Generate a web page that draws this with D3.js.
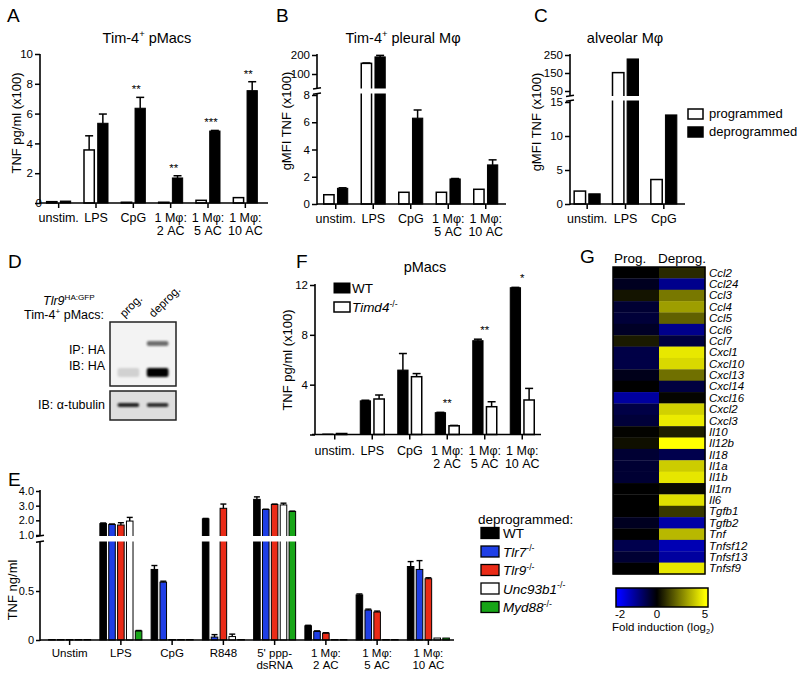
<!DOCTYPE html>
<html><head><meta charset="utf-8">
<script src="https://cdn.jsdelivr.net/npm/d3@7"></script>
<style>body{margin:0;background:#fff}</style>
</head><body><svg id="c" width="800" height="678"></svg>
<script>
// ---------------- DATA ----------------
const groupsA = ["unstim.","LPS","CpG","1 Mφ:\n2 AC","1 Mφ:\n5 AC","1 Mφ:\n10 AC"];
const progA = [0.09,3.56,0.05,0.05,0.18,0.36];
const progAErr = [0,0.95,0,0,0,0];
const deprogA = [0.13,5.35,6.36,1.68,4.83,7.54];
const deprogAErr = [0,0.62,0.73,0.15,0.04,0.6];
const starsA = ["","","**","**","***","**"];
const ticksA = [0,2,4,6,8,10];

const groupsB = ["unstim.","LPS","CpG","1 Mφ:\n5 AC","1 Mφ:\n10 AC"];
const progB = [0.68,156,0.86,0.86,1.08];
const progBErr = [0,2,0,0,0];
const deprogB = [1.15,190,6.3,1.84,2.87];
const deprogBErr = [0.04,8,0.6,0.03,0.37];
const ticksBLow = [0,2,4,6,8];
const ticksBHigh = [100,200];

const groupsC = ["unstim.","LPS","CpG"];
const progC = [1.9,152,3.6];
const deprogC = [1.5,228,13.1];
const ticksCLow = [0,5,10,15];
const ticksCHigh = [50,150,250];
const legendC = ["programmed","deprogrammed"];

const lanesD = ["prog.","deprog."];
const haUpperD = [0,0.55];
const haLowerD = [0.14,1.0];
const tubulinD = [0.85,0.8];

const groupsE = ["Unstim","LPS","CpG","R848","5' ppp-\ndsRNA","1 Mφ:\n2 AC","1 Mφ:\n5 AC","1 Mφ:\n10 AC"];
const seriesE = ["WT","Tlr7","Tlr9","Unc93b1","Myd88"];
const colorsE = ["#000000","#1f3fe6","#ea2b17","#ffffff","#17a517"];
const wtE     = [0.004,1.78,0.72,2.1,3.43,0.145,0.46,0.75];
const wtEErr  = [0,0.04,0.04,0.03,0.17,0.005,0.01,0.05];
const tlr7E   = [0.004,1.72,0.59,0.03,2.74,0.088,0.305,0.72];
const tlr7EErr= [0,0.03,0.01,0.025,0.02,0.005,0.01,0.09];
const tlr9E   = [0.004,1.68,0.002,2.82,3.08,0.07,0.285,0.625];
const tlr9EErr= [0,0.16,0,0.29,0.03,0.004,0.01,0.01];
const unc93b1E= [0.004,1.95,0.002,0.035,3.05,0.003,0.005,0.02];
const unc93b1EErr=[0,0.25,0,0.025,0.12,0,0,0];
const myd88E  = [0.003,0.092,0.002,0.002,2.6,0.003,0.005,0.02];
const myd88EErr=[0,0.005,0,0,0.03,0,0,0];
const ticksELow = [0,0.5];
const ticksEHigh = [1,2,3,4];

const groupsF = ["unstim.","LPS","CpG","1 Mφ:\n2 AC","1 Mφ:\n5 AC","1 Mφ:\n10 AC"];
const wtF = [0,2.7,5.17,1.75,7.53,11.78];
const wtFErr = [0,0.05,1.33,0.03,0.12,0.03];
const timd4F = [0.08,2.85,4.64,0.7,2.23,2.77];
const timd4FErr = [0,0.32,0.25,0.03,0.4,0.93];
const starsF = ["","","","**","**","*"];
const ticksF = [0,4,8,12];

const genesG = ["Ccl2","Ccl24","Ccl3","Ccl4","Ccl5","Ccl6","Ccl7","Cxcl1","Cxcl10","Cxcl13","Cxcl14","Cxcl16","Cxcl2","Cxcl3","Il10","Il12b","Il18","Il1a","Il1b","Il1rn","Il6","Tgfb1","Tgfb2","Tnf","Tnfsf12","Tnfsf13","Tnfsf9"];
const progG = [0,-0.25,0.4,-0.4,-0.45,-0.3,0.5,-0.55,-0.55,-0.2,0,-1.25,-0.55,-0.45,0.05,0.3,-0.4,-0.4,-0.4,0,0,0,-0.25,0,-0.6,-0.4,0];
const deprogG = [0.8,-1.1,2.35,3.1,1.9,-1.1,-0.5,4.55,4.25,2.2,-0.5,0.1,4.1,4.6,0.6,5,-0.6,4.0,4.5,0.2,4.4,1.1,-1.3,3.6,-1.4,-1.25,4.5];
const columnsG = ["Prog.","Deprog."];
const colorTicksG = [-2,0,5];

// ---------------- HELPERS ----------------
const FONT = '"Liberation Sans", Arial, Helvetica, sans-serif';
const svg = d3.select("#c").attr("font-family", FONT);

function rich(t, parts, fs) {
  let shift = 0;
  parts.forEach(p => {
    const o = typeof p === "string" ? {t:p} : p;
    const target = o.sup ? -fs*0.38 : o.sub ? fs*0.25 : 0;
    const sp = t.append("tspan").text(o.t);
    if (target - shift !== 0) sp.attr("dy", target - shift);
    shift = target;
    if (o.sup || o.sub) sp.attr("font-size", fs*0.65);
    if (o.i) sp.attr("font-style","italic");
  });
  return t;
}
function text(g, x, y, s, o={}) {
  const fs = o.fs || 12;
  const t = g.append("text").attr("x",x).attr("y",y).attr("font-size",fs)
    .attr("text-anchor",o.anchor||"start").attr("fill","#000");
  if (o.italic) t.attr("font-style","italic");
  if (o.rot) t.attr("transform",`rotate(${o.rot},${x},${y})`);
  if (typeof s === "string") t.text(s); else rich(t, s, fs);
  return t;
}
function line(g,x1,y1,x2,y2,w=1.6){
  return g.append("line").attr("x1",x1).attr("y1",y1).attr("x2",x2).attr("y2",y2)
    .attr("stroke","#000").attr("stroke-width",w);
}
function yAxis(g, x, scale, ticks, fmt, y0, y1, fs=11.5, ts=5) {
  const a = g.append("g").attr("transform",`translate(${x},0)`)
    .call(d3.axisLeft(scale).tickValues(ticks).tickFormat(fmt).tickSize(ts).tickPadding(2));
  a.select(".domain").remove();
  a.attr("font-family",FONT).attr("font-size",fs);
  a.selectAll(".tick line").attr("stroke","#000").attr("stroke-width",1.5);
  a.selectAll(".tick text").attr("fill","#000");
  line(g,x,y0,x,y1);
  return a;
}
function xAxis(g, xs, y, x0, x1, fs, dy1, lh) {
  const a = g.append("g").attr("transform",`translate(0,${y})`)
    .call(d3.axisBottom(xs).tickSize(5).tickSizeOuter(0));
  a.select(".domain").remove();
  a.attr("font-family",FONT).attr("font-size",fs);
  a.selectAll(".tick line").attr("stroke","#000").attr("stroke-width",1.5);
  a.selectAll(".tick text").each(function(d){
    const t = d3.select(this); t.text(null).attr("dy",null).attr("y",null).attr("fill","#000");
    d.split("\n").forEach((s,i)=>t.append("tspan").attr("x",0).attr("y",dy1+i*lh).text(s));
  });
  line(g,x0,y,x1,y);
}
function bars(g, xs, sub, key, vals, yf, y0, fill, sw) {
  g.append("g").selectAll("rect").data(vals.map((v,i)=>({k:xs.domain()[i],v})))
    .join("rect")
    .attr("x", d => xs(d.k)+xs.bandwidth()/2+sub(key))
    .attr("width", sub.bandwidth())
    .attr("y", d => Math.min(yf(d.v), y0-0.5))
    .attr("height", d => Math.max(y0-yf(d.v),0.5))
    .attr("fill", fill).attr("stroke","#000").attr("stroke-width",sw);
}
function errs(g, xs, sub, key, vals, ev, yf, cap, w=1.5) {
  vals.forEach((v,i) => {
    if (!ev[i]) return;
    const cx = xs(xs.domain()[i])+xs.bandwidth()/2+sub(key)+sub.bandwidth()/2;
    line(g,cx,yf(v),cx,yf(v+ev[i]),w);
    line(g,cx-cap/2,yf(v+ev[i]),cx+cap/2,yf(v+ev[i]),w);
  });
}
function breakMarks(g, x, yTop, yBot, x0, x1) {
  g.append("rect").attr("x",x0).attr("y",yTop).attr("width",x1-x0).attr("height",yBot-yTop).attr("fill","#fff");
  line(g,x-4,yTop+0.5,x+4,yTop-0.8,1.6);
  line(g,x-4,yBot+0.8,x+4,yBot-0.5,1.6);
}
function letter(x,y,s){ text(svg,x,y,s,{fs:19}); }

// ---------------- PANEL A ----------------
{
  const g = svg.append("g");
  letter(7,22,"A");
  text(g,147,43,["Tim-4",{t:"+",sup:true}," pMacs"],{fs:14.5,anchor:"middle"});
  const y = d3.scaleLinear().domain([0,10]).range([203,54]);
  const xs = d3.scaleBand().domain(groupsA).range([40,264]);
  const sub = d3.scaleBand().domain(["p","d"]).range([-12,12]).paddingInner(0.25);
  bars(g,xs,sub,"p",progA,y,203,"#fff",1.5);
  bars(g,xs,sub,"d",deprogA,y,203,"#000",1);
  errs(g,xs,sub,"p",progA,progAErr,y,8);
  errs(g,xs,sub,"d",deprogA,deprogAErr,y,8);
  starsA.forEach((s,i)=>{ if(!s) return;
    text(g,xs(groupsA[i])+xs.bandwidth()/2+3,y(deprogA[i]+deprogAErr[i])-4,s,{fs:11.5,anchor:"middle"}); });
  const a = yAxis(g,40,y,ticksA,d3.format("d"),54,204);
  a.selectAll(".tick").filter(d=>d===0).select("text").attr("x",2);
  xAxis(g,xs,203,40,268,12.5,19,13);
  text(g,21,123,"TNF pg/ml (x100)",{fs:13,anchor:"middle",rot:-90});
}

// ---------------- PANEL B ----------------
{
  const g = svg.append("g");
  letter(276,22,"B");
  text(g,403,43,["Tim-4",{t:"+",sup:true}," pleural Mφ"],{fs:14.5,anchor:"middle"});
  const low = d3.scaleLinear().domain([0,8]).range([204,95]);
  const high = d3.scaleLinear().domain([100,200]).range([74,55]);
  const yf = v => v <= 8 ? low(v) : high(v);
  const xs = d3.scaleBand().domain(groupsB).range([317,504.5]);
  const sub = d3.scaleBand().domain(["p","d"]).range([-12,12]).paddingInner(0.25);
  bars(g,xs,sub,"p",progB,yf,204,"#fff",1.5);
  bars(g,xs,sub,"d",deprogB,yf,204,"#000",1);
  errs(g,xs,sub,"p",progB,progBErr,yf,8);
  errs(g,xs,sub,"d",deprogB,deprogBErr,yf,8);
  breakMarks(g,317,88.5,93.5,319,506);
  yAxis(g,317,low,ticksBLow,d3.format("d"),94,205);
  yAxis(g,317,high,ticksBHigh,d3.format("d"),54,88);
  xAxis(g,xs,204,317,506,12.5,19,13);
  text(g,291,121,"gMFI TNF (x100)",{fs:13,anchor:"middle",rot:-90});
}

// ---------------- PANEL C ----------------
{
  const g = svg.append("g");
  letter(534,22,"C");
  text(g,625,43,"alveolar Mφ",{fs:14.5,anchor:"middle"});
  const low = d3.scaleLinear().domain([0,15]).range([204,102]);
  const high = d3.scaleLinear().domain([50,250]).range([91,55]);
  const yf = v => v <= 15 ? low(v) : high(v);
  const xs = d3.scaleBand().domain(groupsC).range([568,683]);
  const sub = d3.scaleBand().domain(["p","d"]).range([-13,13]).paddingInner(0.22);
  bars(g,xs,sub,"p",progC,yf,204,"#fff",1.5);
  bars(g,xs,sub,"d",deprogC,yf,204,"#000",1);
  breakMarks(g,570,96,100.5,572,685);
  yAxis(g,570,low,ticksCLow,d3.format("d"),101,205);
  yAxis(g,570,high,ticksCHigh,d3.format("d"),54,96);
  xAxis(g,xs,204,570,685,12.5,19,13);
  text(g,541,122,"gMFI TNF (x100)",{fs:13,anchor:"middle",rot:-90});
  legendC.forEach((s,i)=>{
    g.append("rect").attr("x",688).attr("y",109+i*18).attr("width",15).attr("height",10)
      .attr("fill", i? "#000":"#fff").attr("stroke","#000").attr("stroke-width",1.5);
    text(g,709,118+i*18,s,{fs:13});
  });
}

// ---------------- PANEL D ----------------
{
  const g = svg.append("g");
  letter(8,268,"D");
  text(g,43,305,[{t:"Tlr9",i:true},{t:"HA:GFP",sup:true}],{fs:12.5});
  text(g,24,319,["Tim-4",{t:"+",sup:true}," pMacs:"],{fs:12.5});
  const defs = svg.append("defs");
  defs.append("filter").attr("id","blur").append("feGaussianBlur").attr("stdDeviation",1.3);
  const lane = d3.scaleBand().domain(lanesD).range([112,174]).padding(0.12);
  lanesD.forEach(l=>text(g,lane(l)+lane.bandwidth()/2-4,318,l,{fs:11.5,rot:-45}));
  g.append("rect").attr("x",110).attr("y",322).attr("width",66).attr("height",64)
    .attr("fill","#f3f3f3").attr("stroke","#222").attr("stroke-width",1.5);
  g.append("rect").attr("x",110).attr("y",391).attr("width",66).attr("height",29)
    .attr("fill","#dedede").attr("stroke","#222").attr("stroke-width",1.5);
  const bandG = g.append("g").attr("filter","url(#blur)");
  const drawBands = (arr,yy,h) => arr.forEach((v,i)=>{ if(!v) return;
    bandG.append("rect").attr("x",lane(lanesD[i])+2).attr("y",yy).attr("width",lane.bandwidth()-4)
      .attr("height",h).attr("rx",2).attr("fill","#000").attr("fill-opacity",v); });
  drawBands(haUpperD,341,5);
  drawBands(haLowerD,368,9);
  drawBands(tubulinD,403,4);
  text(g,105,354,"IP: HA",{fs:12.5,anchor:"end"});
  text(g,105,370,"IB: HA",{fs:12.5,anchor:"end"});
  text(g,105,409,"IB: α-tubulin",{fs:12.5,anchor:"end"});
}

// ---------------- PANEL E ----------------
{
  const g = svg.append("g");
  letter(8,486,"E");
  const low = d3.scaleLinear().domain([0,1]).range([640,542]);
  const high = d3.scaleLinear().domain([1,4]).range([535,491]);
  const yf = v => v <= 1 ? low(v) : high(v);
  const xs = d3.scaleBand().domain(groupsE).range([44,454]);
  const sub = d3.scaleBand().domain(seriesE).range([-21,21]).paddingInner(0.26);
  const vals = [wtE,tlr7E,tlr9E,unc93b1E,myd88E];
  const ev = [wtEErr,tlr7EErr,tlr9EErr,unc93b1EErr,myd88EErr];
  seriesE.forEach((s,i)=>{
    bars(g,xs,sub,s,vals[i],yf,640,colorsE[i],1);
    errs(g,xs,sub,s,vals[i],ev[i],yf,6,1.4);
  });
  breakMarks(g,40,536,541.5,42,456);
  yAxis(g,40,low,ticksELow,d=>d===0?"0":"0.5",541,641,11,4);
  yAxis(g,40,high,ticksEHigh,d3.format(".1f"),490,536,11,4);
  xAxis(g,xs,640,40,454,11.5,16.5,12.5);
  text(g,17,590,"TNF ng/ml",{fs:13,anchor:"middle",rot:-90});
  text(g,478,524,"deprogrammed:",{fs:13.5});
  seriesE.forEach((s,i)=>{
    const yy = 533 + i*18.5;
    g.append("rect").attr("x",481).attr("y",yy-5.5).attr("width",18).attr("height",11)
      .attr("fill",colorsE[i]).attr("stroke","#000").attr("stroke-width",1.3);
    if (s==="WT") text(g,503,yy+5,s,{fs:13.5});
    else text(g,503,yy+5,[{t:s,i:true},{t:"-/-",sup:true}],{fs:13.5});
  });
}

// ---------------- PANEL F ----------------
{
  const g = svg.append("g");
  letter(296,268,"F");
  text(g,425,272,"pMacs",{fs:14.5,anchor:"middle"});
  const y = d3.scaleLinear().domain([0,12]).range([434.5,285]);
  const xs = d3.scaleBand().domain(groupsF).range([316,541]);
  const sub = d3.scaleBand().domain(["w","t"]).range([-12,12]).paddingInner(0.25);
  bars(g,xs,sub,"w",wtF,y,434.5,"#000",1);
  bars(g,xs,sub,"t",timd4F,y,434.5,"#fff",1.5);
  errs(g,xs,sub,"w",wtF,wtFErr,y,8);
  errs(g,xs,sub,"t",timd4F,timd4FErr,y,8);
  starsF.forEach((s,i)=>{ if(!s) return;
    text(g,xs(groupsF[i])+xs.bandwidth()/2,y(wtF[i]+wtFErr[i])-5,s,{fs:11.5,anchor:"middle"}); });
  yAxis(g,315,y,ticksF,d=>d===0?"":d3.format("d")(d),284,435);
  xAxis(g,xs,434.5,312,541,12.5,20.5,13);
  text(g,292,360,"TNF pg/ml (x100)",{fs:13,anchor:"middle",rot:-90});
  g.append("rect").attr("x",334).attr("y",283).attr("width",16).attr("height",10).attr("fill","#000").attr("stroke","#000");
  text(g,352,293,"WT",{fs:13.5});
  g.append("rect").attr("x",334).attr("y",302).attr("width",16).attr("height",10).attr("fill","#fff").attr("stroke","#000").attr("stroke-width",1.5);
  text(g,352,312,[{t:"Timd4",i:true},{t:"-/-",sup:true}],{fs:13.5});
}

// ---------------- PANEL G ----------------
{
  const g = svg.append("g");
  letter(580,263,"G");
  const color = d3.scaleLinear().domain([-2,0,5]).range(["#0000ff","#000000","#ffff00"]).clamp(true);
  const xs = d3.scaleBand().domain(columnsG).range([613,705]);
  const ys = d3.scaleBand().domain(genesG).range([267,574]);
  const cells = [];
  genesG.forEach((gn,i)=>{ cells.push({c:"Prog.",g:gn,v:progG[i]}); cells.push({c:"Deprog.",g:gn,v:deprogG[i]}); });
  g.append("g").selectAll("rect").data(cells).join("rect")
    .attr("x",d=>xs(d.c)).attr("y",d=>ys(d.g)).attr("width",xs.bandwidth()+0.3).attr("height",ys.bandwidth()+0.3)
    .attr("fill",d=>color(d.v));
  g.append("rect").attr("x",613).attr("y",267).attr("width",92).attr("height",307)
    .attr("fill","none").attr("stroke","#000").attr("stroke-width",1.5);
  text(g,614,263,"Prog.",{fs:13.5});
  text(g,658,263,"Deprog.",{fs:13.5});
  genesG.forEach(gn=>text(g,709,ys(gn)+ys.bandwidth()/2+4,gn,{fs:11.5,italic:true}));
  // colour bar
  const cbx = d3.scaleLinear().domain([-2,0,5]).range([620,657,705]);
  const x0 = 616, x1 = 708;
  const grad = svg.select("defs").append("linearGradient").attr("id","cb");
  d3.range(-2,5.01,0.25).forEach(v=>grad.append("stop")
    .attr("offset",((cbx(v)-x0)/(x1-x0)*100)+"%").attr("stop-color",color(v)));
  g.append("rect").attr("x",x0).attr("y",588).attr("width",x1-x0).attr("height",19)
    .attr("fill","url(#cb)").attr("stroke","#000").attr("stroke-width",1.5);
  colorTicksG.forEach(v=>text(g,cbx(v),618,String(v),{fs:11.5,anchor:"middle"}));
  text(g,663,631,["Fold induction (log",{t:"2",sub:true},{t:")"}],{fs:11.5,anchor:"middle"});
}
</script></body></html>
